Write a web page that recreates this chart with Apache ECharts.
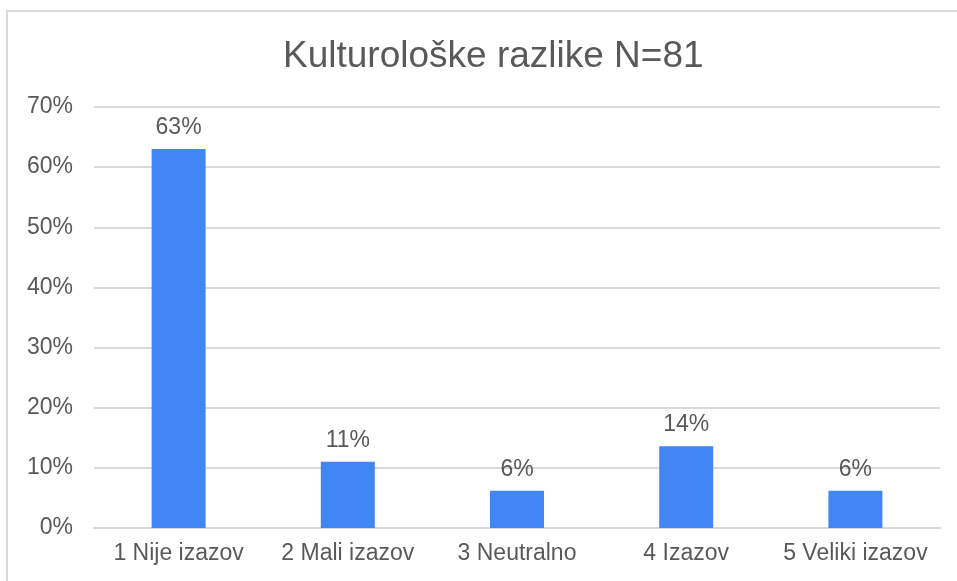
<!DOCTYPE html>
<html>
<head>
    <meta charset="UTF-8">
    <title>Kulturološke razlike</title>
    <script src="https://cdn.jsdelivr.net/npm/echarts@6/dist/echarts.min.js"></script>
    <style>
        html, body { margin: 0; padding: 0; background: #fff; }
        #main { width: 957px; height: 581px; }
    </style>
</head>
<body>
<div id="main"></div>
<script>
    // podatki
    var categories = ['1 Nije izazov', '2 Mali izazov', '3 Neutralno', '4 Izazov', '5 Veliki izazov'];
    var values = [63, 11, 6.2, 13.6, 6.2];   // odstotki
    var yTicks = [0, 10, 20, 30, 40, 50, 60, 70];

    var textColor = '#595959';
    var font = 'Liberation Sans, Arial, sans-serif';

    var myChart = echarts.init(document.getElementById('main'));
    myChart.setOption({
        animation: false,
        title: {
            text: 'Kulturološke razlike N=81',
            left: 278,
            top: 33,
            textStyle: { color: textColor, fontSize: 37, fontWeight: 'normal', fontFamily: font }
        },
        graphic: [{
            type: 'rect',
            shape: { x: 7, y: 11, width: 970, height: 600 },
            style: { fill: 'none', stroke: '#d9d9d9', lineWidth: 2 },
            silent: true
        }],
        grid: { left: 94, right: 17, top: 107, bottom: 53 },
        xAxis: {
            type: 'category',
            data: categories,
            axisTick: { show: false },
            axisLine: { lineStyle: { color: '#d9d9d9', width: 2 } },
            axisLabel: { color: textColor, fontSize: 23, fontFamily: font, margin: 14, interval: 0 }
        },
        yAxis: {
            type: 'value',
            min: yTicks[0],
            max: yTicks[yTicks.length - 1],
            interval: 10,
            axisLine: { show: false },
            axisTick: { show: false },
            splitLine: { lineStyle: { color: '#d9d9d9', width: 2 } },
            axisLabel: { color: textColor, fontSize: 23, fontFamily: font, margin: 21, formatter: '{value}%' }
        },
        series: [{
            type: 'bar',
            data: values,
            barWidth: 54,
            itemStyle: { color: '#4285F4' },
            label: {
                show: true,
                position: 'top',
                distance: 10,
                color: textColor,
                fontSize: 23,
                fontFamily: font,
                formatter: function (p) { return Math.round(p.value) + '%'; }
            }
        }]
    });
</script>
</body>
</html>
